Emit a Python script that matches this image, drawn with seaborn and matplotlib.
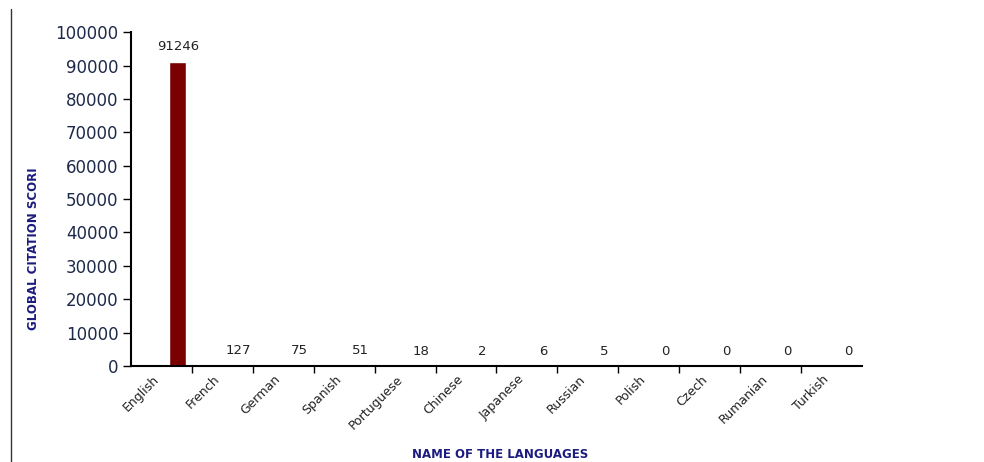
from matplotlib import pyplot as plt
from matplotlib.lines import Line2D
import seaborn as sns
import pandas as pd
import numpy as np

# data
languages = ['English', 'French', 'German', 'Spanish', 'Portuguese', 'Chinese',
             'Japanese', 'Russian', 'Polish', 'Czech', 'Rumanian', 'Turkish']
scores = [91246, 127, 75, 51, 18, 2, 6, 5, 0, 0, 0, 0]
yticks = [0, 10000, 20000, 30000, 40000, 50000, 60000, 70000, 80000, 90000, 100000]

df = pd.DataFrame({'language': languages, 'score': scores})

sns.set_style('white')
plt.rcParams['font.family'] = ['DejaVu Sans']

navy = '#1c1c80'
tick_col = '#1e2a4a'

fig, ax = plt.subplots(figsize=(9.84, 4.62), dpi=100)
fig.subplots_adjust(left=0.133, right=0.876, top=0.93, bottom=0.208)

sns.barplot(data=df, x='language', y='score', color='#7a0000', width=0.28,
            saturation=1, ax=ax)
# bars sit right of the category centre, like the original
for p in ax.patches:
    p.set_x(p.get_x() + 0.27)
ax.bar_label(ax.containers[0], labels=[str(v) for v in scores], padding=6,
             fontsize=9.5, color='#222222')

ax.set_xlim(-0.5, len(languages) - 0.5)
ax.set_ylim(0, 100000)
ax.set_yticks(yticks)
ax.set_yticklabels([str(t) for t in yticks], fontsize=12, color=tick_col)

# tick marks on category boundaries, labels near the centres
pos = np.arange(len(languages))
ax.set_xticks(pos - 0.15)
ax.set_xticklabels(languages, rotation=45, ha='right', rotation_mode='anchor',
                   fontsize=9, color='#222222')
ax.set_xticks(pos[1:] - 0.5, minor=True)
ax.tick_params(axis='x', which='major', bottom=True, length=0, pad=5)
ax.tick_params(axis='x', which='minor', bottom=True, direction='out', length=5,
               width=1, color='black')
ax.tick_params(axis='y', left=True, direction='out', length=6, width=1,
               color='black', pad=3)

sns.despine(ax=ax)
ax.spines['left'].set_color('black')
ax.spines['bottom'].set_color('black')
ax.spines['left'].set_linewidth(1.5)
ax.spines['bottom'].set_linewidth(1.5)

ax.set_xlabel('NAME OF THE LANGUAGES', fontsize=8.5, fontweight='bold', color=navy)
ax.set_ylabel('GLOBAL CITATION SCORI', fontsize=8.5, fontweight='bold', color=navy)
ax.xaxis.set_label_coords(0.505, -0.245)
ax.yaxis.set_label_coords(-0.124, 0.35)

# thin frame line on the left of the picture
fig.add_artist(Line2D([0.011, 0.011], [0.0, 0.98], color='#333333', lw=1))

fig.savefig('out.png', dpi=100)
